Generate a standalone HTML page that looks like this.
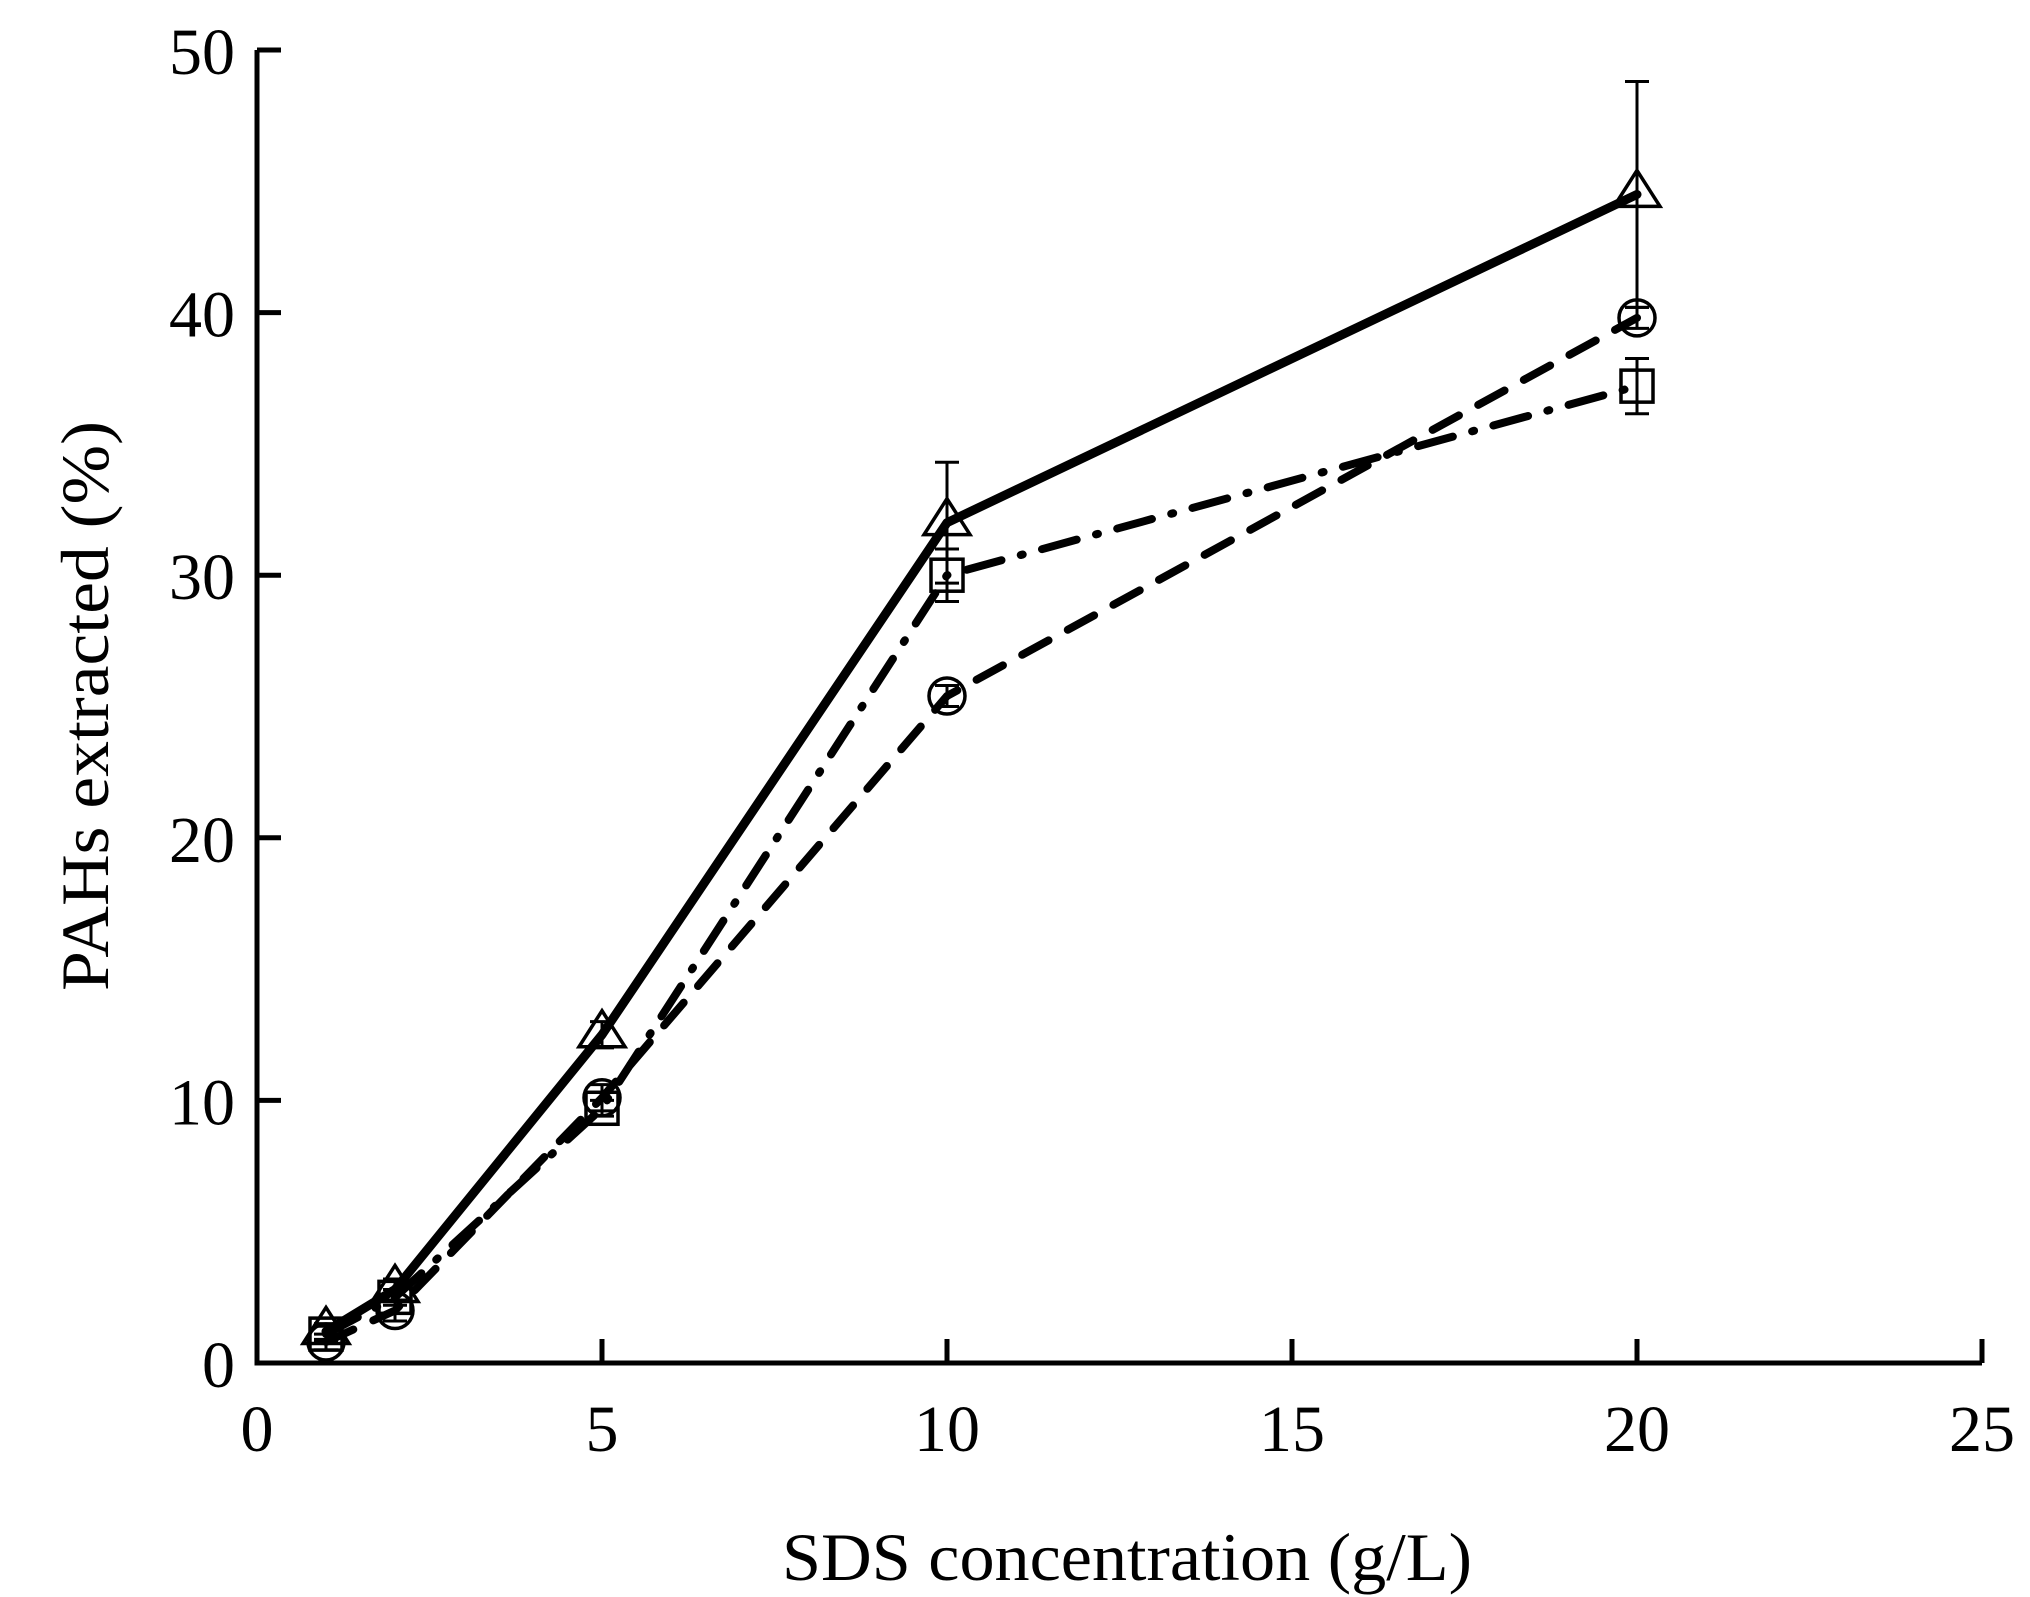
<!DOCTYPE html>
<html><head><meta charset="utf-8"><style>
html,body{margin:0;padding:0;background:#fff;}
svg{display:block;font-family:"Liberation Serif",serif;}
</style></head><body>
<svg id="chart" width="2030" height="1597" viewBox="0 0 2030 1597" xmlns="http://www.w3.org/2000/svg">
<g id="axes"></g>
<g id="series"></g>
<text x="1127" y="1580" font-size="68" text-anchor="middle" textLength="690" lengthAdjust="spacingAndGlyphs">SDS concentration (g/L)</text>
<text transform="translate(108,706) rotate(-90)" font-size="68" text-anchor="middle" textLength="570" lengthAdjust="spacingAndGlyphs">PAHs extracted (%)</text>
</svg>
<script>
const xCats = [1, 2, 5, 10, 20];
const triVals = [1.2, 2.8, 12.5, 32, 44.5];
const triErr = [0.3, 0.4, 0.5, 2.3, 4.3];
const sqVals = [1.1, 2.5, 9.7, 30, 37.2];
const sqErr = [0.3, 0.3, 0.3, 1.0, 1.05];
const cirVals = [0.8, 2.0, 10.1, 25.4, 39.8];
const cirErr = [0.3, 0.4, 0.5, 0.4, 0.4];
const xTicks = [0, 5, 10, 15, 20, 25];
const yTicks = [0, 10, 20, 30, 40, 50];

const NS = "http://www.w3.org/2000/svg";
const X0 = 257, X1 = 1982, Y0 = 1363, Y1 = 50;
const xs = v => X0 + (X1 - X0) * v / 25;
const ys = v => Y0 - (Y0 - Y1) * v / 50;
function mk(tag, attrs, parent) {
  const e = document.createElementNS(NS, tag);
  for (const k in attrs) e.setAttribute(k, attrs[k]);
  parent.appendChild(e);
  return e;
}
const axes = document.getElementById('axes');
const ser = document.getElementById('series');
let a = mk('path', {d: `M${X0},${Y1} V${Y0} H${X1}`, fill: 'none', stroke: '#000', 'stroke-width': 5}, axes);


xTicks.forEach(t => {
  const l = mk('line', {x1: xs(t), x2: xs(t), y1: Y0, y2: Y0 - 24, stroke: '#000', 'stroke-width': 5}, axes);
  
  
  const tx = mk('text', {x: xs(t), y: Y0 + 88, 'font-size': 66, 'text-anchor': 'middle'}, axes);
  tx.textContent = t;
  
  
});
yTicks.forEach(t => {
  const l = mk('line', {x1: X0, x2: X0 + 24, y1: ys(t), y2: ys(t), stroke: '#000', 'stroke-width': 5}, axes);
  
  
  const tx = mk('text', {x: X0 - 22, y: ys(t) + 24, 'font-size': 66, 'text-anchor': 'end'}, axes);
  tx.textContent = t;
  
  
});
function series(vals, errs, dash, name, marker, w) {
  const g = mk('g', {}, ser);
  
  
  const pts = xCats.map((x, i) => `${xs(x)},${ys(vals[i])}`).join(' ');
  const pl = mk('polyline', {points: pts, fill: 'none', stroke: '#000', 'stroke-width': w, 'stroke-dasharray': dash, 'stroke-linecap': 'round', 'stroke-linejoin': 'round'}, g);
  
  
  xCats.forEach((x, i) => {
    const cx = xs(x), cy = ys(vals[i]), top = ys(vals[i] + errs[i]), bot = ys(vals[i] - errs[i]);
    const eb = mk('path', {d: `M${cx},${top} V${bot} M${cx - 12},${top} H${cx + 12} M${cx - 12},${bot} H${cx + 12}`, stroke: '#000', 'stroke-width': 3, fill: 'none'}, g);
    
    
    let m;
    if (marker === 'tri') m = mk('path', {d: `M${cx},${cy - 24} L${cx + 23},${cy + 12} L${cx - 23},${cy + 12} Z`, fill: 'none', stroke: '#000', 'stroke-width': 3.5}, g);
    else if (marker === 'sq') m = mk('rect', {x: cx - 16, y: cy - 16, width: 32, height: 32, fill: 'none', stroke: '#000', 'stroke-width': 3.5}, g);
    else m = mk('circle', {cx: cx, cy: cy, r: 18, fill: 'none', stroke: '#000', 'stroke-width': 3.5}, g);
    
    
  });
}
series(cirVals, cirErr, '30 22', 'circle-series', 'cir', 8);
series(sqVals, sqErr, '36 20 2 20', 'square-series', 'sq', 8);
series(triVals, triErr, 'none', 'triangle-series', 'tri', 9);
</script>
</body></html>
